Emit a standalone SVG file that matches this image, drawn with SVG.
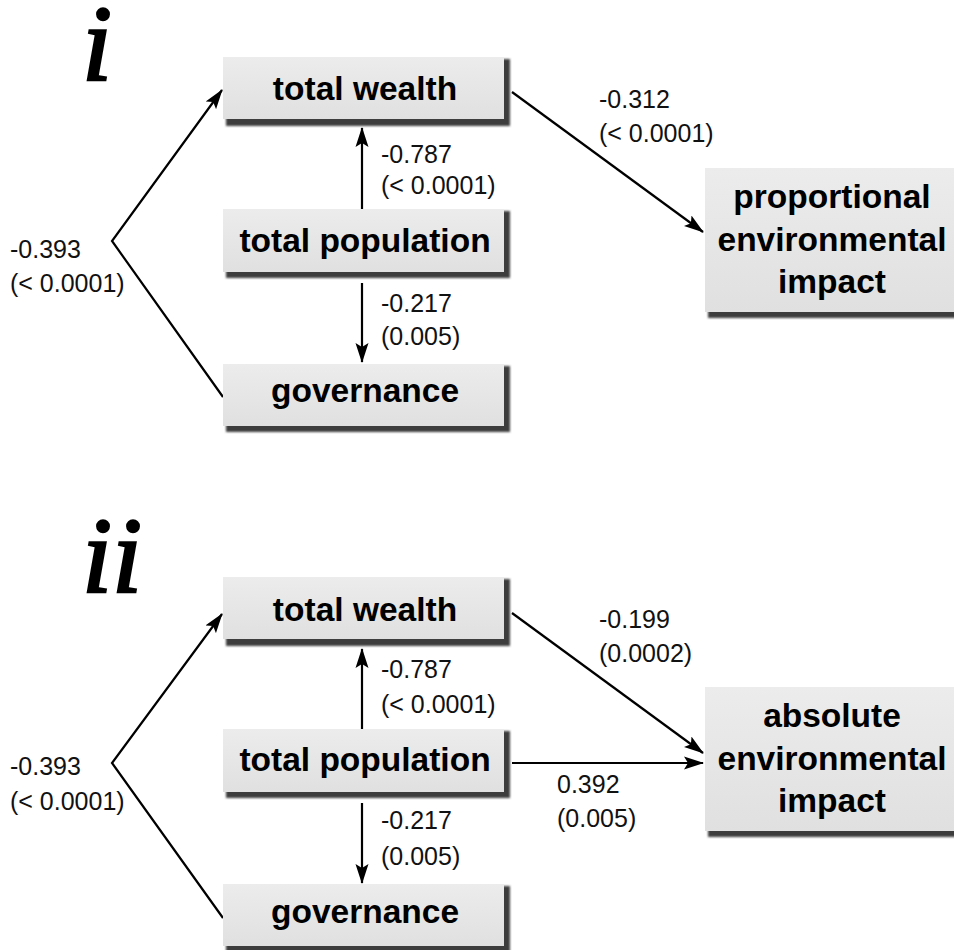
<svg xmlns="http://www.w3.org/2000/svg" width="954" height="950" viewBox="0 0 954 950">
<defs>
<style>
.face{fill:url(#fg);}
.shadow{fill:#3c3c3c;filter:url(#blur);}
.bt{font-family:"Liberation Sans",Arial,sans-serif;font-weight:bold;font-size:33.5px;fill:#000;text-anchor:middle;}
.lab{font-family:"Liberation Sans",Arial,sans-serif;font-size:25px;fill:#111;}
.pan{font-family:"Liberation Serif","Times New Roman",serif;font-style:italic;font-size:108px;fill:#000;stroke:#000;stroke-width:2.5;}
.ln{stroke:#000;stroke-width:2.2;fill:none;}
.arr{marker-end:url(#ah);}
</style>
<filter id="blur" x="-5%" y="-5%" width="110%" height="110%"><feGaussianBlur stdDeviation="0.8"/></filter>
<linearGradient id="fg" x1="0" y1="0" x2="0" y2="1"><stop offset="0" stop-color="#ececec"/><stop offset="1" stop-color="#e0e0e0"/></linearGradient>
<marker id="ah" markerUnits="userSpaceOnUse" markerWidth="20" markerHeight="14" refX="19" refY="7" orient="auto"><path d="M0,0.5 L20,7 L0,13.5 L4,7 z" fill="#000"/></marker>
</defs>
<rect width="954" height="950" fill="#fff"/>

<text class="pan" x="82" y="80">i</text>
<text class="pan" x="82" y="592">ii</text>

<g id="connectors">
<polyline class="ln arr" points="223,397 112,241 222,90"/>
<line class="ln arr" x1="362" y1="209" x2="362" y2="128"/>
<line class="ln arr" x1="362" y1="283" x2="362" y2="362"/>
<line class="ln arr" x1="512" y1="92" x2="703" y2="232"/>
<polyline class="ln arr" points="223,918 112,763 222,614"/>
<line class="ln arr" x1="362" y1="729" x2="362" y2="649"/>
<line class="ln arr" x1="362" y1="803" x2="362" y2="883"/>
<line class="ln arr" x1="512" y1="613" x2="703" y2="753"/>
<line class="ln arr" x1="512" y1="763" x2="703" y2="763"/>
</g>

<g id="labels">
<text class="lab" x="10" y="258">-0.393</text>
<text class="lab" x="10" y="292">(&lt; 0.0001)</text>
<text class="lab" x="381" y="163">-0.787</text>
<text class="lab" x="381" y="194">(&lt; 0.0001)</text>
<text class="lab" x="381" y="312">-0.217</text>
<text class="lab" x="381" y="345">(0.005)</text>
<text class="lab" x="599" y="108">-0.312</text>
<text class="lab" x="599" y="142">(&lt; 0.0001)</text>
<text class="lab" x="10" y="775">-0.393</text>
<text class="lab" x="10" y="810">(&lt; 0.0001)</text>
<text class="lab" x="381" y="678">-0.787</text>
<text class="lab" x="381" y="713">(&lt; 0.0001)</text>
<text class="lab" x="381" y="829">-0.217</text>
<text class="lab" x="381" y="865">(0.005)</text>
<text class="lab" x="599" y="628">-0.199</text>
<text class="lab" x="599" y="662">(0.0002)</text>
<text class="lab" x="557" y="793">0.392</text>
<text class="lab" x="557" y="827">(0.005)</text>
</g>

<g id="i-total-wealth">
<rect class="shadow" x="226" y="59" width="284" height="67"/>
<rect class="face" x="223" y="57" width="281" height="62"/>
<text class="bt" x="365" y="100">total wealth</text>
</g>
<g id="i-total-population">
<rect class="shadow" x="226" y="211" width="284" height="67"/>
<rect class="face" x="223" y="209" width="281" height="63"/>
<text class="bt" x="365" y="252">total population</text>
</g>
<g id="i-governance">
<rect class="shadow" x="226" y="366" width="284" height="66"/>
<rect class="face" x="223" y="364" width="281" height="62"/>
<text class="bt" x="365" y="402">governance</text>
</g>
<g id="i-impact">
<rect class="shadow" x="708" y="170" width="260" height="148"/>
<rect class="face" x="705" y="168" width="265" height="144"/>
<text class="bt" x="832" y="208">proportional</text>
<text class="bt" x="832" y="251">environmental</text>
<text class="bt" x="832" y="293">impact</text>
</g>

<g id="ii-total-wealth">
<rect class="shadow" x="226" y="579" width="284" height="67"/>
<rect class="face" x="223" y="577" width="281" height="62"/>
<text class="bt" x="365" y="621">total wealth</text>
</g>
<g id="ii-total-population">
<rect class="shadow" x="226" y="731" width="284" height="67"/>
<rect class="face" x="223" y="729" width="281" height="63"/>
<text class="bt" x="365" y="771">total population</text>
</g>
<g id="ii-governance">
<rect class="shadow" x="226" y="886" width="284" height="66"/>
<rect class="face" x="223" y="884" width="281" height="62"/>
<text class="bt" x="365" y="923">governance</text>
</g>
<g id="ii-impact">
<rect class="shadow" x="708" y="689" width="260" height="148"/>
<rect class="face" x="705" y="687" width="265" height="144"/>
<text class="bt" x="832" y="727">absolute</text>
<text class="bt" x="832" y="770">environmental</text>
<text class="bt" x="832" y="812">impact</text>
</g>
</svg>
